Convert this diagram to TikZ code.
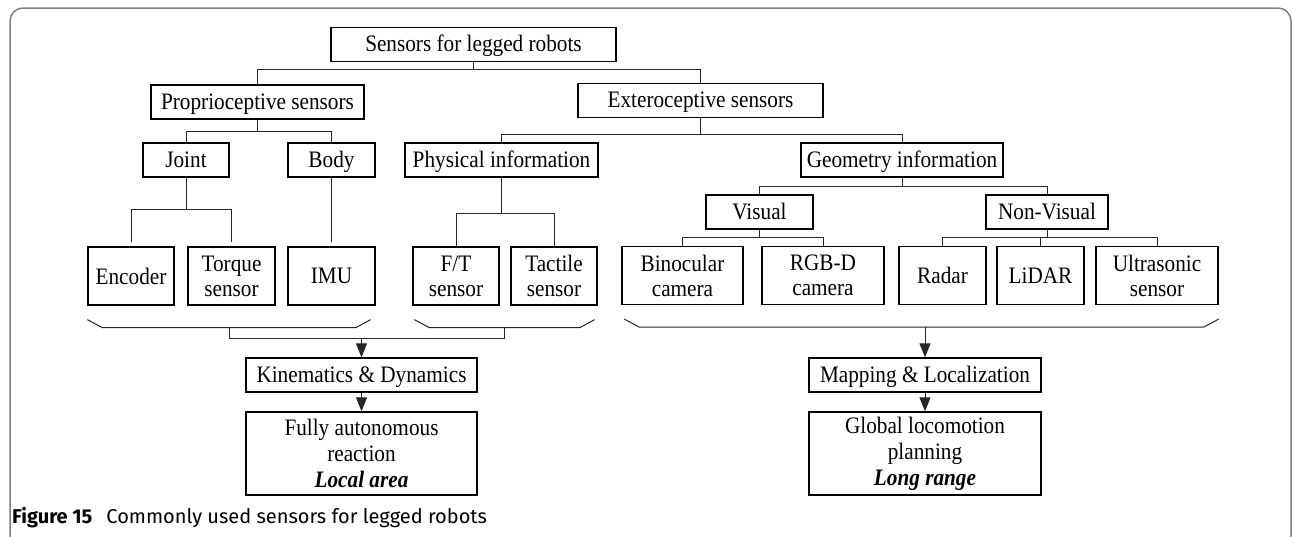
\documentclass[tikz,border=0pt]{standalone}
\usepackage{fontspec}
\setmainfont{Liberation Serif}[FakeStretch=0.9]
\newfontfamily\capfont{Fira Sans}
\usetikzlibrary{arrows.meta,calc}

\begin{document}
\begin{tikzpicture}[x=1pt,y=-1pt,
  box/.style={draw, line width=1.3pt, inner sep=0pt, align=center,
    minimum height=34pt, font=\fontsize{23.6}{25}\selectfont},
  line/.style={box, text height=18pt, text depth=4pt},
  tall/.style={box, minimum height=58pt},
  link/.style={line width=1pt, black!85},
  arr/.style={link, -{Triangle[length=14pt,width=11pt]}}]
  \useasboundingbox (0,0) rectangle (1293,536);
  % Cadre
  \draw[black!50, line width=1.5pt, rounded corners=13pt] (10,8) rectangle (1291,548);
  % Niveaux superieurs
  \node[line, minimum width=285pt] (root) at (473.5,44.5) {Sensors for legged robots};
  \node[line, minimum width=213pt] (proprio) at (257.5,102) {Proprioceptive sensors};
  \node[line, minimum width=245pt] (extero) at (700.5,100.5) {Exteroceptive sensors};
  \node[line, minimum width=86pt] (joint) at (186,160) {Joint};
  \node[line, minimum width=87pt] (body) at (331.5,160) {Body};
  \node[line, minimum width=193pt] (phys) at (501.5,160) {Physical information};
  \node[line, minimum width=202pt] (geom) at (902,160) {Geometry information};
  \node[line, minimum width=107pt] (visual) at (759.5,212) {Visual};
  \node[line, minimum width=122pt] (nonvis) at (1047,212) {Non-Visual};
  % Capteurs
  \node[tall, minimum width=86pt] (encoder) at (131,276) {Encoder};
  \node[tall, minimum width=87pt] (torque) at (231.5,276) {Torque\\sensor};
  \node[tall, minimum width=87pt] (imu) at (331.5,276) {IMU};
  \node[tall, minimum width=86pt] (ft) at (456,276) {F/T\\sensor};
  \node[tall, minimum width=86pt] (tactile) at (554,276) {Tactile\\sensor};
  \node[tall, minimum width=121pt] (bino) at (682.5,275.5) {Binocular\\camera};
  \node[tall, minimum width=122pt] (rgbd) at (823,275.5) {RGB-D\\camera};
  \node[tall, minimum width=87pt] (radar) at (942.5,275.5) {Radar};
  \node[tall, minimum width=87pt] (lidar) at (1040.5,275.5) {LiDAR};
  \node[tall, minimum width=122pt] (ultra) at (1157,275.5) {Ultrasonic\\sensor};
  % Resultats
  \node[line, minimum width=231pt] (kin) at (361.5,375) {Kinematics \& Dynamics};
  \node[box, minimum width=231pt, minimum height=83pt, font=\fontsize{23.6}{26}\selectfont]
    (auto) at (361.5,453.5) {Fully autonomous\\reaction\\\textbf{\textit{Local area}}};
  \node[line, minimum width=232pt] (map) at (925,375) {Mapping \& Localization};
  \node[box, minimum width=232pt, minimum height=83pt, font=\fontsize{23.6}{26}\selectfont]
    (glob) at (925,453.5) {Global locomotion\\planning\\\textbf{\textit{Long range}}};
  % Arbre
  \draw[link] (root.south) -- ++(0,7) -| (proprio.north);
  \draw[link] (root.south) -- ++(0,7) -| (extero.north);
  \draw[link] (proprio.south) -- ++(0,12) -| (joint.north);
  \draw[link] (proprio.south) -- ++(0,12) -| (body.north);
  \draw[link] (extero.south) -- ++(0,16) -| (phys.north);
  \draw[link] (extero.south) -- ++(0,16) -| (geom.north);
  \draw[link, shorten >=4pt] (joint.south) -- ++(0,32) -| (encoder.north);
  \draw[link, shorten >=4pt] (joint.south) -- ++(0,32) -| (torque.north);
  \draw[link, shorten >=4pt] (body.south) -- (imu.north);
  \draw[link] (phys.south) -- ++(0,36) -| (ft.north);
  \draw[link] (phys.south) -- ++(0,36) -| (tactile.north);
  \draw[link] (geom.south) -- ++(0,9) -| (visual.north);
  \draw[link] (geom.south) -- ++(0,9) -| (nonvis.north);
  \draw[link] (visual.south) -- ++(0,8) -| (bino.north);
  \draw[link] (visual.south) -- ++(0,8) -| (rgbd.north);
  \foreach \s in {radar,lidar,ultra}
    \draw[link] (nonvis.south) -- ++(0,8) -| (\s.north);
  % Accolades
  \draw[link] ($(encoder.south west)+(0,14)$) -- ++(15,8)
    -- coordinate (bA) ($(imu.south east)+(-20,22)$) -- ++(15,-8);
  \draw[link] ($(ft.south west)+(2,14)$) -- ++(15,8)
    -- coordinate (bB) ($(tactile.south east)+(-18,22)$) -- ++(15,-8);
  \draw[link] ($(bino.south west)+(3,14)$) -- ++(15,8)
    -- coordinate (bC) ($(ultra.south east)+(-15,22)$) -- ++(15,-8);
  % Fleches
  \draw[link] (bA) -- ++(0,11) coordinate (jA) -| (bB);
  \draw[arr] (jA -| kin.north) -- (kin.north);
  \draw[arr] (bC -| map.north) -- (map.north);
  \draw[arr] (kin.south) -- (auto.north);
  \draw[arr] (map.south) -- (glob.north);
  % Legende
  \node[anchor=base west, inner sep=0pt, font=\capfont\fontsize{20}{22}\selectfont]
    (cap) at (12,523) {\textbf{Figure 15}\hspace{0.7em}Commonly used sensors for legged robots};
\end{tikzpicture}
\end{document}
